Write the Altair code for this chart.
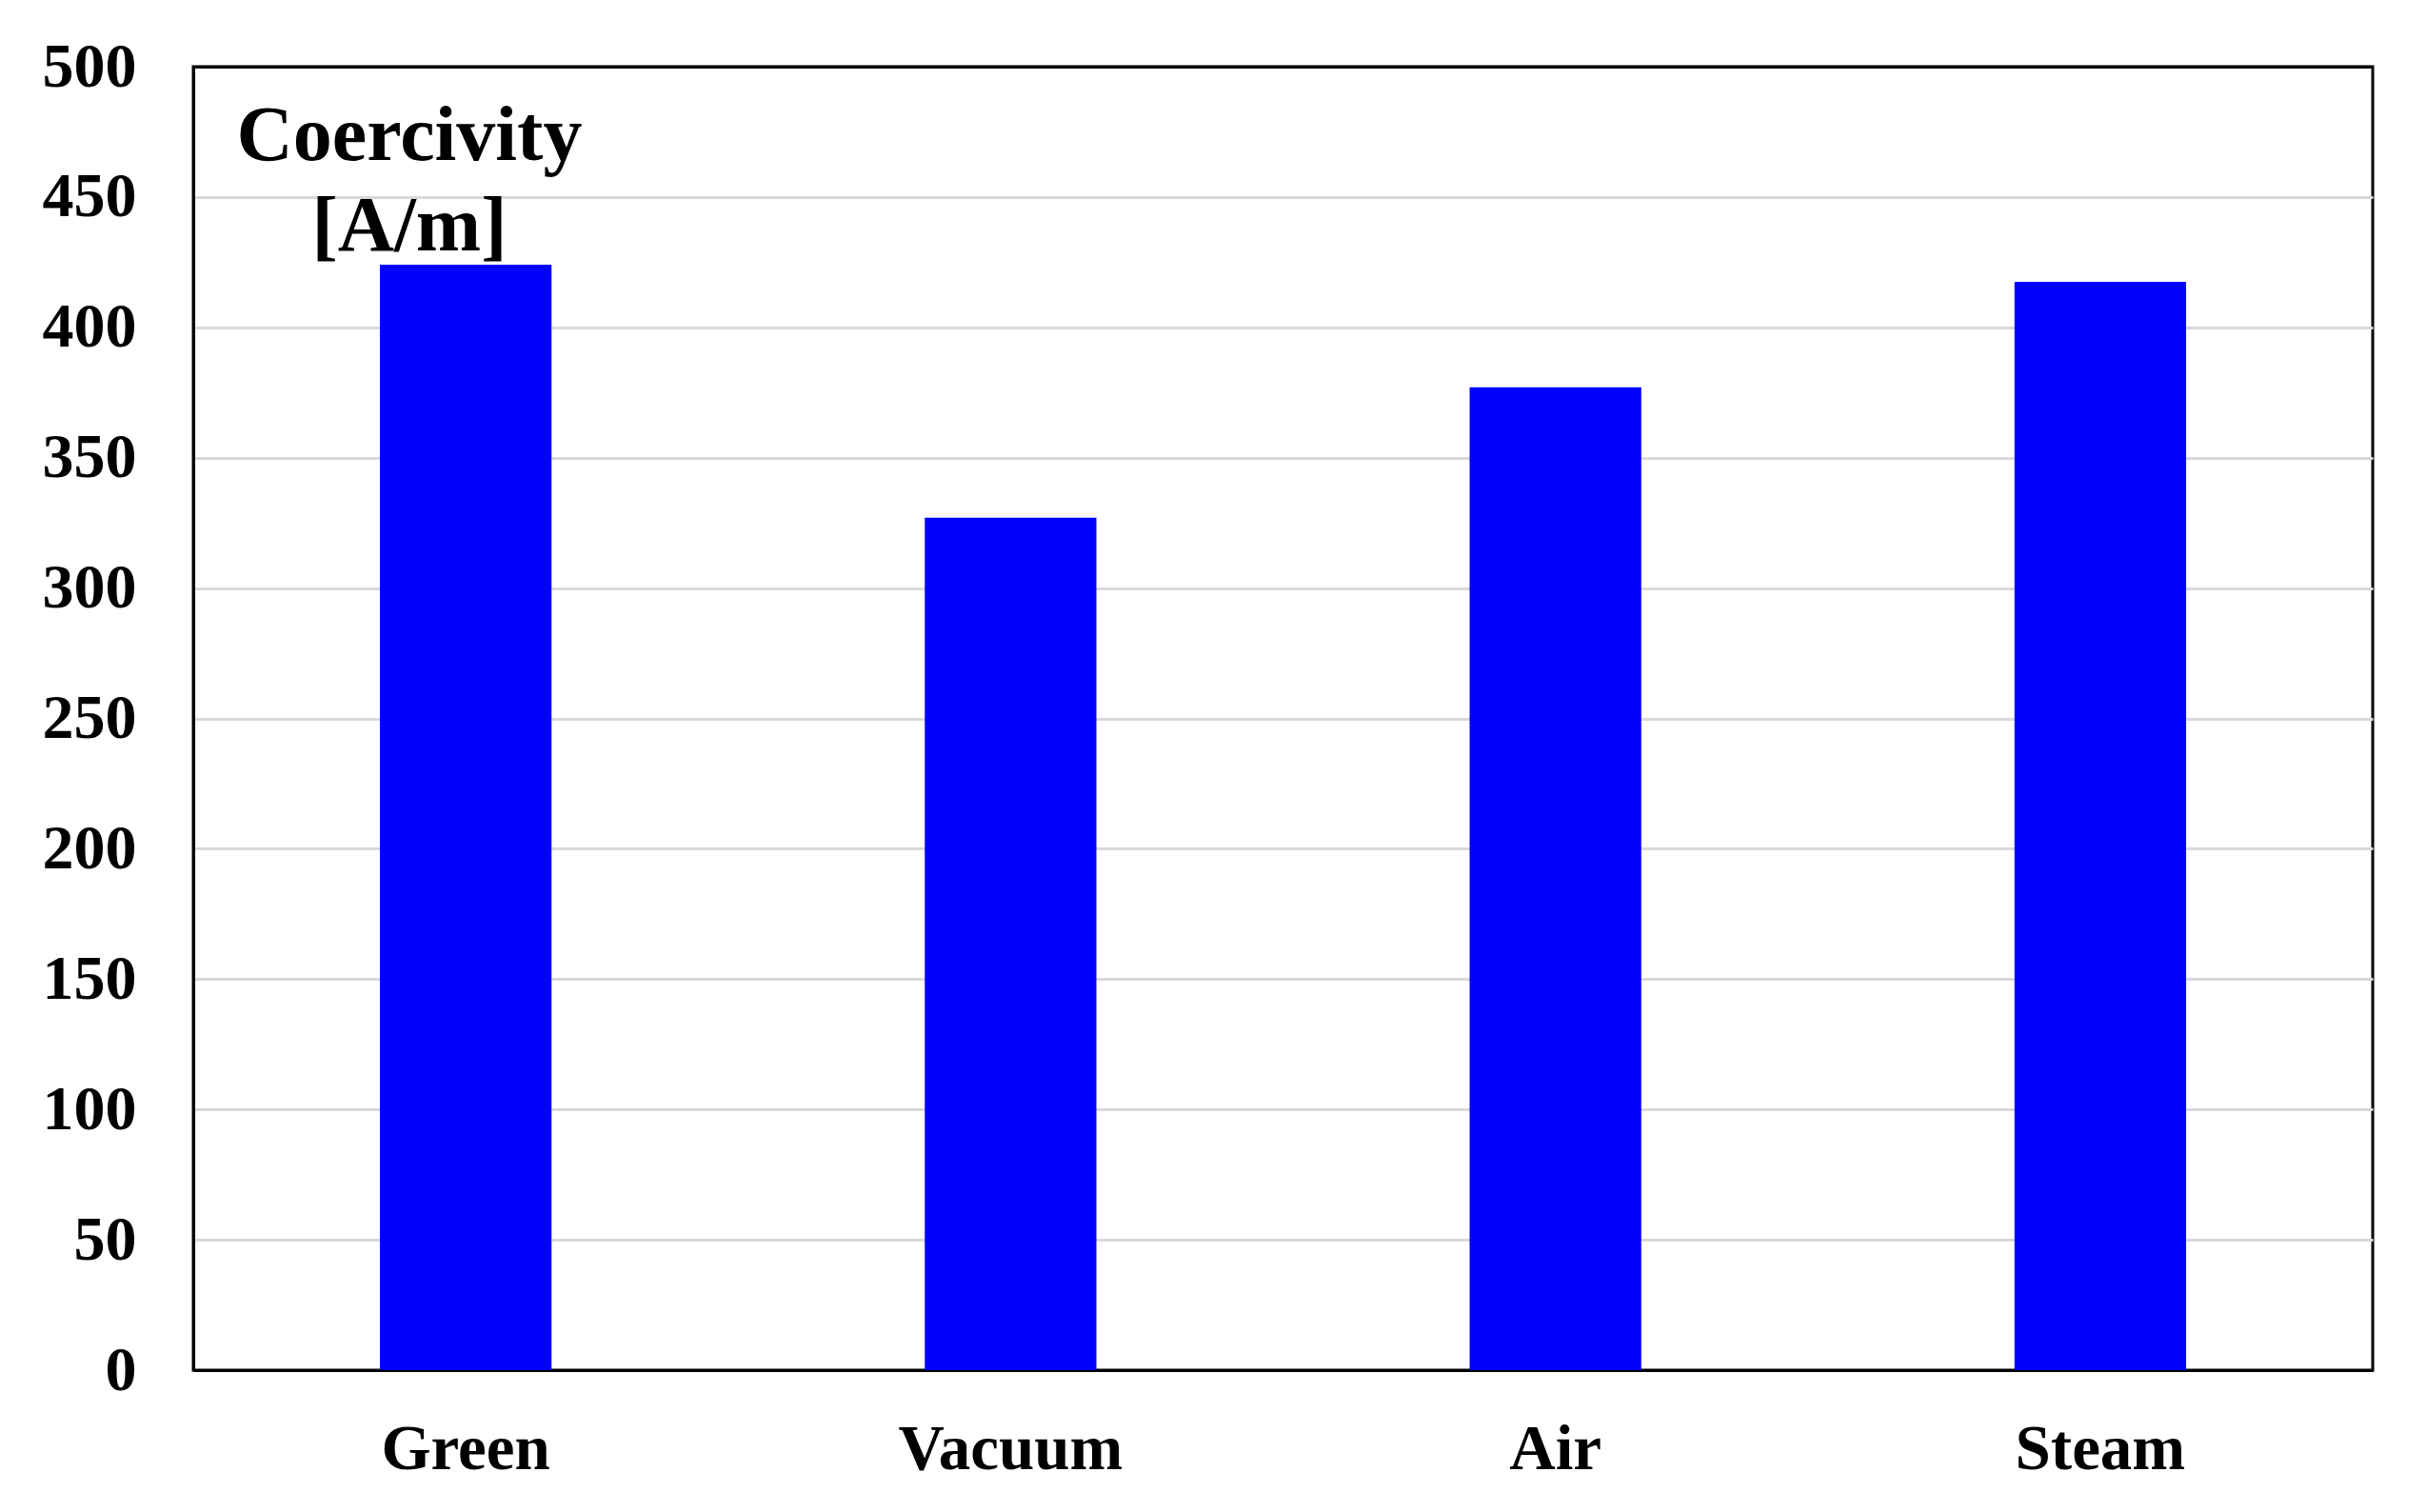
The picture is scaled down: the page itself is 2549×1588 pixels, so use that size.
import altair as alt
import pandas as pd

categories = ["Green", "Vacuum", "Air", "Steam"]
coercivity = [424, 327, 377, 417.5]
y_ticks = [0, 50, 100, 150, 200, 250, 300, 350, 400, 450, 500]
annotation_lines = ["Coercivity", "[A/m]"]

df = pd.DataFrame({"category": categories, "value": coercivity})

FONT = "Liberation Serif"

edge = (alt.datum.value == 0) | (alt.datum.value == 500)

bars = (
    alt.Chart(df)
    .mark_bar(color="#0000ff")
    .encode(
        x=alt.X(
            "category:N",
            sort=categories,
            scale=alt.Scale(paddingInner=0.685, paddingOuter=0.3425),
            axis=alt.Axis(
                title=None,
                labelAngle=0,
                ticks=False,
                tickSize=0,
                domain=True,
                domainColor="black",
                domainWidth=3,
                labelFont=FONT,
                labelFontWeight="bold",
                labelFontSize=67,
                labelColor="black",
                labelBaseline="alphabetic",
                labelPadding=103,
                labelLimit=0,
            ),
        ),
        y=alt.Y(
            "value:Q",
            scale=alt.Scale(domain=[0, 500], nice=False),
            axis=alt.Axis(
                title=None,
                values=y_ticks,
                ticks=False,
                tickSize=0,
                domain=True,
                domainColor="black",
                domainWidth=3,
                grid=True,
                gridColor=alt.condition(edge, alt.value("black"), alt.value("#d9d9d9")),
                gridWidth=3,
                labelFont=FONT,
                labelFontWeight="bold",
                labelFontSize=66,
                labelColor="black",
                labelPadding=60,
                labelLimit=0,
            ),
        ),
    )
)

label = (
    alt.Chart(pd.DataFrame({"k": [0]}))
    .mark_text(
        text=annotation_lines,
        font=FONT,
        fontWeight="bold",
        fontSize=82,
        lineHeight=95,
        align="center",
        baseline="alphabetic",
        color="black",
    )
    .encode(x=alt.value(227), y=alt.value(98))
)

chart = (
    alt.layer(bars, label)
    .properties(
        width=2289,
        height=1369,
        background="white",
        autosize=alt.AutoSizeParams(type="none"),
        padding={"left": 195, "top": 62, "right": 40, "bottom": 140},
    )
    .configure_view(stroke="black", strokeWidth=3)
)

chart.save("out.html", embed_options={"renderer": "svg", "actions": False})
